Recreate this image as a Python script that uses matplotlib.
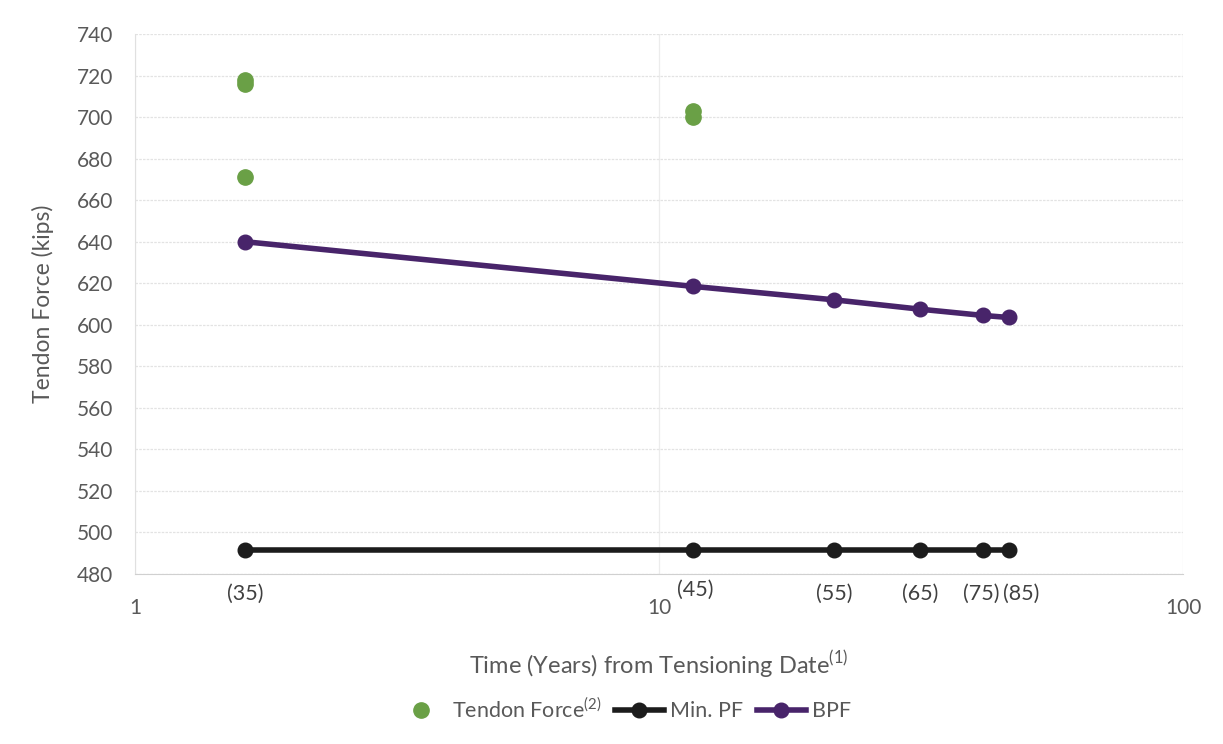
import matplotlib
matplotlib.use('Agg')
import matplotlib.pyplot as plt
from matplotlib.ticker import FixedLocator, NullLocator

plt.rcParams['font.family'] = ['Lato', 'DejaVu Sans']
plt.rcParams['mathtext.fontset'] = 'custom'
plt.rcParams['mathtext.rm'] = 'Lato'

# years from tensioning (log axis) and inspection labels
years = [1.62, 11.6, 21.6, 31.5, 41.5, 46.5]
year_labels = ['(35)', '(45)', '(55)', '(65)', '(75)', '(85)']

# measured tendon forces
tf_years = [1.62, 1.62, 1.62, 11.6, 11.6]
tf_force = [718, 716, 671, 703, 700]

min_pf = [491.5, 491.5, 491.5, 491.5, 491.5, 491.5]
bpf = [640, 618.5, 612, 607.5, 604.5, 603.5]

fig = plt.figure(figsize=(12.23, 7.44), dpi=100)
ax = fig.add_axes([0.1104, 0.2285, 0.8569, 0.7258])

ax.plot(tf_years, tf_force, ls='none', marker='o', ms=11, color='#6aa046', zorder=3,
        label='Tendon Force$^{(2)}$')
ax.plot(years, min_pf, color='#1c1c1c', lw=4, marker='o', ms=10.5, label='Min. PF', zorder=2)
ax.plot(years, bpf, color='#48246a', lw=4, marker='o', ms=10.5, label='BPF', zorder=2)

ax.set_xscale('log')
ax.set_xlim(1, 100)
ax.set_ylim(480, 740)
ax.set_yticks(range(480, 741, 20))
ax.xaxis.set_major_locator(FixedLocator([1, 10, 100]))
ax.xaxis.set_minor_locator(NullLocator())
ax.set_xticklabels(['1', '10', '100'])

ax.grid(axis='y', color='#e3e3e3', lw=0.9, ls=(0, (2, 1)))
ax.grid(axis='x', color='#ececec', lw=0.9)
ax.set_axisbelow(True)
for s in ['top', 'right']:
    ax.spines[s].set_visible(False)
ax.spines['left'].set_color('#e0e0e0')
ax.spines['bottom'].set_color('#d0d0d0')
ax.tick_params(length=0, labelsize=15, labelcolor='#595959')
ax.tick_params(axis='x', pad=17)
ax.tick_params(axis='y', pad=16)

# year labels under the axis
offsets = {'(45)': (2, -0.011), '(75)': (-2, -0.018), '(85)': (12, -0.018)}
for x, lab in zip(years, year_labels):
    dx, dy = offsets.get(lab, (0, -0.018))
    ax.annotate(lab, (x, dy), xycoords=ax.get_xaxis_transform(), xytext=(dx, 0),
                textcoords='offset pixels', ha='center', va='top', fontsize=15.5, color='#404040')

ax.set_ylabel('Tendon Force (kips)', fontsize=16.5, color='#595959', labelpad=16)
ax.set_xlabel('Time (Years) from Tensioning Date$^{(1)}$', fontsize=17, color='#595959', labelpad=22)

leg = fig.legend(loc='center', bbox_to_anchor=(0.51, 0.047), ncol=3, frameon=False,
                 fontsize=15.5, handlelength=2.3, columnspacing=0.6, handletextpad=0.3)
for t in leg.get_texts():
    t.set_color('#595959')

fig.savefig('out.png', dpi=100)
